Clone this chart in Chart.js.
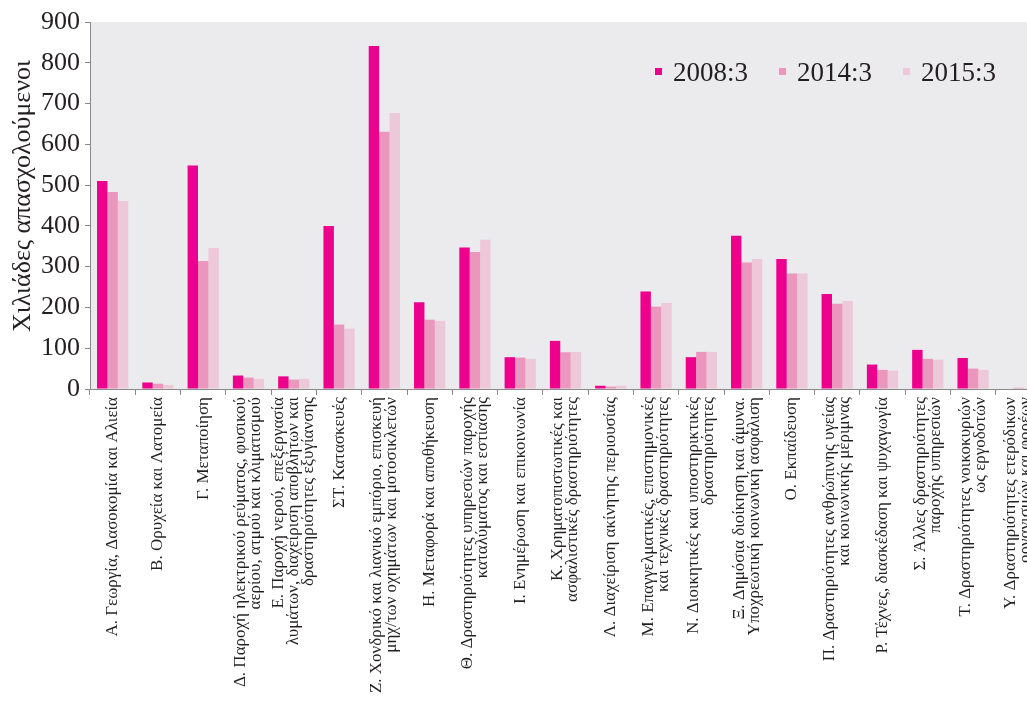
<!DOCTYPE html>
<html lang="el">
<head>
<meta charset="utf-8">
<title>Απασχολούμενοι ανά τομέα οικονομικής δραστηριότητας</title>
<script src="https://cdn.jsdelivr.net/npm/chart.js@4.4.1/dist/chart.umd.min.js"></script>
<style>
  html, body { margin: 0; padding: 0; background: #fff; overflow: hidden; }
  #wrap { width: 1043px; height: 703px; }
</style>
</head>
<body>
<div id="wrap"><canvas id="jobsChart" width="1043" height="703"></canvas></div>
<script>
// κατηγορίες (πολλές γραμμές ανά ετικέτα)
const categories = [
  ['Α. Γεωργία, Δασοκομία και Αλιεία'],
  ['Β. Ορυχεία και Λατομεία'],
  ['Γ. Μεταποίηση'],
  ['Δ. Παροχή ηλεκτρικού ρεύματος, φυσικού', 'αερίου, ατμού και κλιματισμού'],
  ['Ε. Παροχή νερού, επεξεργασία', 'λυμάτων, διαχείριση αποβλήτων και', 'δραστηριότητες εξυγίανσης'],
  ['ΣΤ. Κατασκευές'],
  ['Ζ. Χονδρικό και λιανικό εμπόριο, επισκευή', 'μηχ/των οχημάτων και μοτοσικλετών'],
  ['Η. Μεταφορά και αποθήκευση'],
  ['Θ. Δραστηριότητες υπηρεσιών παροχής', 'καταλύματος και εστίασης'],
  ['Ι. Ενημέρωση και επικοινωνία'],
  ['Κ. Χρηματοπιστωτικές και', 'ασφαλιστικές δραστηριότητες'],
  ['Λ. Διαχείριση ακίνητης περιουσίας'],
  ['Μ. Επαγγελματικές, επιστημονικές', 'και τεχνικές δραστηριότητες'],
  ['Ν. Διοικητικές και υποστηρικτικές', 'δραστηριότητες'],
  ['Ξ. Δημόσια διοίκηση και άμυνα.', 'Υποχρεωτική κοινωνική ασφάλιση'],
  ['Ο. Εκπαίδευση'],
  ['Π. Δραστηριότητες ανθρώπινης υγείας', 'και κοινωνικής μέριμνας'],
  ['Ρ. Τέχνες, διασκέδαση και ψυχαγωγία'],
  ['Σ. Άλλες δραστηριότητες', 'παροχής υπηρεσιών'],
  ['Τ. Δραστηριότητες νοικοκυριών', 'ως εργοδοτών'],
  ['Υ. Δραστηριότητες ετερόδικων', 'οργανισμών και φορέων']
];

const seriesNames = ['2008:3', '2014:3', '2015:3'];
const values2008 = [510, 16, 548, 33, 31, 400, 841, 213, 347, 78, 118, 8, 239, 78, 376, 319, 233, 60, 96, 76, 0];
const values2014 = [483, 13, 314, 28, 23, 158, 631, 170, 336, 77, 90, 6, 202, 91, 310, 283, 209, 47, 74, 50, 3];
const values2015 = [461, 10, 346, 25, 25, 148, 677, 167, 366, 74, 91, 8, 211, 91, 319, 283, 216, 45, 72, 47, 3];
const yTicks = [0, 100, 200, 300, 400, 500, 600, 700, 800, 900];
const yAxisTitle = 'Χιλιάδες απασχολούμενοι';

const colors = ['#ec008c', '#eb96bd', '#ecc8d9'];
const textColor = '#231f20';
const axisColor = '#8a8a8a';
const serif = '"Liberation Serif", "DejaVu Serif", serif';

// γκρι φόντο στην περιοχή του γραφήματος
const plotBg = {
  id: 'plotBg',
  beforeDraw(chart) {
    const { ctx, chartArea } = chart;
    ctx.save();
    ctx.fillStyle = '#ebebee';
    ctx.fillRect(chartArea.left, chartArea.top, chartArea.right - chartArea.left, chartArea.bottom - chartArea.top);
    ctx.restore();
  }
};

// ετικέτες άξονα Χ, τίτλος άξονα Υ και υπόμνημα
const extraText = {
  id: 'extraText',
  afterDraw(chart) {
    const { ctx, chartArea } = chart;
    const xScale = chart.scales.x;
    ctx.save();
    ctx.fillStyle = textColor;

    // ετικέτες κατηγοριών, κάθετες
    ctx.font = '17px ' + serif;
    ctx.textAlign = 'right';
    ctx.textBaseline = 'middle';
    const lh = 15;
    categories.forEach((lines, i) => {
      const x = xScale.getPixelForValue(i);
      ctx.save();
      ctx.translate(x, chartArea.bottom + 8);
      ctx.rotate(-Math.PI / 2);
      lines.forEach((line, j) => {
        ctx.fillText(line, 0, (j - (lines.length - 1) / 2) * lh);
      });
      ctx.restore();
    });

    // τίτλος άξονα Υ
    ctx.save();
    ctx.font = '26px ' + serif;
    ctx.textAlign = 'center';
    ctx.textBaseline = 'alphabetic';
    ctx.translate(30, 196);
    ctx.rotate(-Math.PI / 2);
    ctx.fillText(yAxisTitle, 0, 0);
    ctx.restore();

    // υπόμνημα
    ctx.font = '27px ' + serif;
    ctx.textAlign = 'left';
    ctx.textBaseline = 'alphabetic';
    let lx = 655;
    chart.data.datasets.forEach(ds => {
      ctx.fillStyle = ds.backgroundColor;
      ctx.fillRect(lx, 68, 7, 7);
      ctx.fillStyle = textColor;
      ctx.fillText(ds.label, lx + 18, 81);
      lx += 18 + ctx.measureText(ds.label).width + 31;
    });
    ctx.restore();
  }
};

new Chart(document.getElementById('jobsChart'), {
  type: 'bar',
  data: {
    labels: categories.map(c => c.join(' ')),
    datasets: [
      { label: seriesNames[0], data: values2008, backgroundColor: colors[0] },
      { label: seriesNames[1], data: values2014, backgroundColor: colors[1] },
      { label: seriesNames[2], data: values2015, backgroundColor: colors[2] }
    ]
  },
  options: {
    responsive: false,
    animation: false,
    devicePixelRatio: 1,
    layout: { padding: { top: 22, right: 2, left: 0, bottom: 0 } },
    datasets: { bar: { categoryPercentage: 0.69, barPercentage: 1.0 } },
    plugins: {
      legend: { display: false },
      tooltip: { enabled: false }
    },
    scales: {
      x: {
        ticks: { display: false },
        grid: { drawOnChartArea: false, drawTicks: true, tickLength: 6, color: axisColor, offset: true },
        border: { color: axisColor },
        afterFit: s => { s.height = 314; }
      },
      y: {
        min: 0,
        max: 900,
        afterBuildTicks: s => { s.ticks = yTicks.map(v => ({ value: v })); },
        ticks: { color: textColor, font: { family: serif, size: 26 }, padding: 5 },
        grid: { drawOnChartArea: false, drawTicks: true, tickLength: 5, color: axisColor },
        border: { color: axisColor },
        afterFit: s => { s.width = 90; }
      }
    }
  },
  plugins: [plotBg, extraText]
});
</script>
</body>
</html>
